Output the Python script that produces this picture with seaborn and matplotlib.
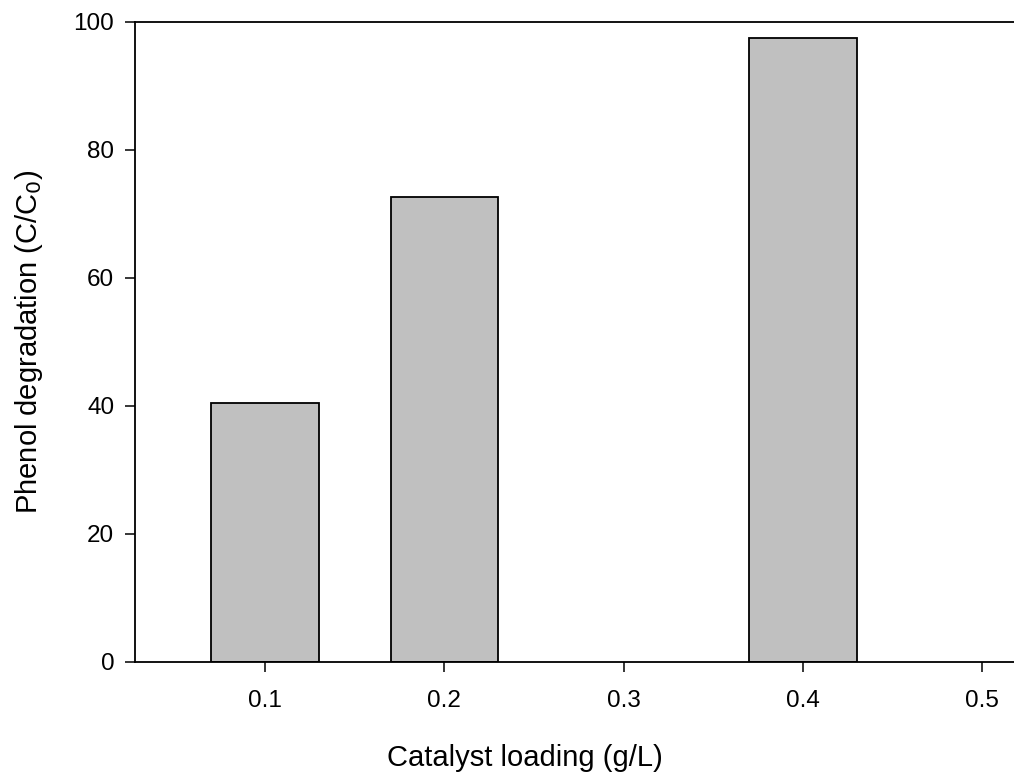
import matplotlib
matplotlib.use("Agg")
import matplotlib.pyplot as plt
import seaborn as sns
import pandas as pd

loadings = ["0.1", "0.2", "0.3", "0.4", "0.5"]
bar_loadings = ["0.1", "0.2", "0.4"]
degradation = [40.5, 72.7, 97.5]
y_ticks = [0, 20, 40, 60, 80, 100]

sns.set_style("ticks")
plt.rcParams["font.family"] = ["Liberation Sans", "DejaVu Sans"]
plt.rcParams["text.color"] = "black"
plt.rcParams["axes.labelcolor"] = "black"

df = pd.DataFrame({"loading": bar_loadings, "degradation": degradation})

fig = plt.figure(figsize=(10.14, 7.73), dpi=100)
ax = fig.add_axes([135 / 1014, 111 / 773, 889 / 1014, 640 / 773])

sns.barplot(data=df, x="loading", y="degradation", order=loadings,
            color="#c0c0c0", width=0.6, edgecolor="black", linewidth=1.3,
            saturation=1, ax=ax)

ax.set_xlim(-0.725, 4.233)
ax.set_ylim(0, 100)
ax.set_yticks(y_ticks)

for side in ["left", "bottom", "top"]:
    ax.spines[side].set_visible(True)
    ax.spines[side].set_linewidth(1.3)
    ax.spines[side].set_color("black")
ax.spines["right"].set_visible(False)

ax.tick_params(axis="both", direction="out", length=7, width=1.1,
               labelsize=17.5, colors="black", labelcolor="black")
ax.tick_params(axis="x", pad=13)
ax.tick_params(axis="y", pad=8)

ax.set_xlabel("Catalyst loading (g/L)", fontsize=21, color="black")
ax.set_ylabel("Phenol degradation (C/C$_0$)", fontsize=21, color="black")
ax.xaxis.set_label_coords((525 - 135) / 889, -0.128)
ax.yaxis.set_label_coords(-0.101, 0.5)

fig.savefig("out.png", dpi=100)
